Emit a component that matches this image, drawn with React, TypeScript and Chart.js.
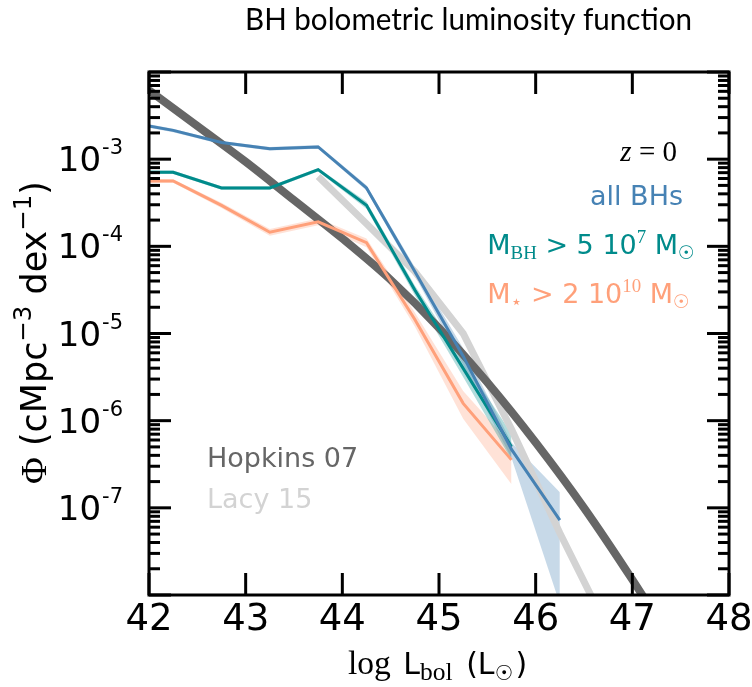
import React, { useEffect, useRef } from 'react';
import { Chart, registerables } from 'chart.js';

Chart.register(...registerables);

// ---------------- data ----------------
const binCenters = [41.75, 42.25, 42.75, 43.25, 43.75, 44.25, 44.75, 45.25, 45.75, 46.25];

const allBHs = [2.69e-3, 2.14e-3, 1.55e-3, 1.32e-3, 1.38e-3, 4.68e-4, 5.13e-5, 5.5e-6, 4.68e-7, 7.24e-8];
const allBHsLow = [2.57e-3, 2.04e-3, 1.48e-3, 1.26e-3, 1.32e-3, 4.37e-4, 4.57e-5, 4.37e-6, 3.72e-7, 7.9e-9];
const allBHsHigh = [2.82e-3, 2.24e-3, 1.62e-3, 1.38e-3, 1.45e-3, 5.01e-4, 5.75e-5, 6.76e-6, 5.62e-7, 1.51e-7];

const massiveBHs = [7.08e-4, 7.08e-4, 4.68e-4, 4.68e-4, 7.59e-4, 2.95e-4, 3.16e-5, 3.98e-6, 5.01e-7];
const massiveBHsLow = [6.76e-4, 6.76e-4, 4.47e-4, 4.47e-4, 7.24e-4, 2.69e-4, 2.75e-5, 3.16e-6, 3.55e-7];
const massiveBHsHigh = [7.41e-4, 7.41e-4, 4.9e-4, 4.9e-4, 7.94e-4, 3.24e-4, 3.55e-5, 5.01e-6, 7.08e-7];

const massiveGals = [5.62e-4, 5.62e-4, 2.95e-4, 1.45e-4, 1.91e-4, 1.1e-4, 1.45e-5, 1.58e-6, 3.55e-7];
const massiveGalsLow = [5.37e-4, 5.37e-4, 2.75e-4, 1.32e-4, 1.74e-4, 9.77e-5, 1.2e-5, 1.05e-6, 1.86e-7];
const massiveGalsHigh = [5.89e-4, 5.89e-4, 3.16e-4, 1.58e-4, 2.09e-4, 1.23e-4, 1.74e-5, 2.19e-6, 5.25e-7];

const hopkinsL = [42.0, 42.5, 43.0, 43.5, 44.0, 44.5, 45.0, 45.5, 46.0, 46.5, 47.0, 47.5];
const hopkinsPhi = [6.17e-3, 2.4e-3, 9.33e-4, 3.39e-4, 1.23e-4, 4.12e-5, 1.16e-5, 2.75e-6, 5.62e-7, 1.0e-7, 1.5e-8, 2.0e-9];

const lacyL = [43.75, 44.25, 44.75, 45.25, 45.75, 46.25, 46.75];
const lacyPhi = [6.31e-4, 1.82e-4, 5.13e-5, 1.0e-5, 7.94e-7, 5.13e-8, 3.98e-9];

const xTickValues = [42, 43, 44, 45, 46, 47, 48];
const yLabelExponents = [-3, -4, -5, -6, -7];
const xMin = 42;
const xMax = 48;
const yMin = 1e-8;
const yMax = 1e-2;

// ---------------- styles ----------------
const BLUE = '#4682b4';
const TEAL = '#008b8b';
const SALMON = '#ffa07a';
const DARKGRAY = '#666666';
const LIGHTGRAY = '#d3d3d3';
const SANS = '"DejaVu Sans"';
const SERIF = '"Liberation Serif"';

type Piece = { t: string; f?: string; s?: number; dy?: number; it?: boolean; gap?: number };

function fontOf(p: Piece, base: number) {
  const size = base * (p.s ?? 1);
  return `${p.it ? 'italic ' : ''}${size}px ${p.f ?? SANS}`;
}

function richWidth(ctx: CanvasRenderingContext2D, pieces: Piece[], base: number) {
  let w = 0;
  for (const p of pieces) {
    ctx.font = fontOf(p, base);
    w += ctx.measureText(p.t).width + (p.gap ?? 0);
  }
  return w;
}

function drawRich(
  ctx: CanvasRenderingContext2D,
  pieces: Piece[],
  base: number,
  x: number,
  y: number,
  align: 'left' | 'center' | 'right',
  color: string
) {
  const w = richWidth(ctx, pieces, base);
  let cx = align === 'right' ? x - w : align === 'center' ? x - w / 2 : x;
  ctx.fillStyle = color;
  ctx.textAlign = 'left';
  ctx.textBaseline = 'alphabetic';
  for (const p of pieces) {
    ctx.font = fontOf(p, base);
    cx += p.gap ?? 0;
    ctx.fillText(p.t, cx, y + (p.dy ?? 0) * base);
    cx += ctx.measureText(p.t).width;
  }
}

const decorPlugin = {
  id: 'decor',
  afterDraw(chart: any) {
    const ctx: CanvasRenderingContext2D = chart.ctx;
    const { left, right, top, bottom } = chart.chartArea;
    const xs = chart.scales.x;
    const ys = chart.scales.y;
    ctx.save();

    // frame
    ctx.strokeStyle = '#000';
    ctx.lineWidth = 3;
    ctx.lineCap = 'butt';
    ctx.strokeRect(left, top, right - left, bottom - top);

    const seg = (x1: number, y1: number, x2: number, y2: number) => {
      ctx.beginPath();
      ctx.moveTo(x1, y1);
      ctx.lineTo(x2, y2);
      ctx.stroke();
    };

    // x ticks (inward, top and bottom)
    for (const v of xTickValues) {
      const px = xs.getPixelForValue(v);
      seg(px, bottom, px, bottom - 22);
      seg(px, top, px, top + 22);
    }
    // y ticks (log, inward, left and right)
    const eMin = Math.floor(Math.log10(yMin));
    const eMax = Math.ceil(Math.log10(yMax));
    for (let e = eMin; e <= eMax; e++) {
      for (let k = 1; k <= 9; k++) {
        const v = k * Math.pow(10, e);
        if (v < yMin * 0.999 || v > yMax * 1.001) continue;
        const py = ys.getPixelForValue(v);
        const len = k === 1 ? 22 : 11;
        seg(left, py, left + len, py);
        seg(right, py, right - len, py);
      }
    }

    // x tick labels
    ctx.fillStyle = '#000';
    ctx.font = `37px ${SANS}`;
    ctx.textAlign = 'center';
    ctx.textBaseline = 'alphabetic';
    for (const v of xTickValues) {
      ctx.fillText(String(v), xs.getPixelForValue(v), 630);
    }

    // y tick labels 10^e
    for (const e of yLabelExponents) {
      const py = ys.getPixelForValue(Math.pow(10, e));
      const sup = `-${Math.abs(e)}`;
      ctx.font = `21px ${SANS}`;
      const ws = ctx.measureText(sup).width;
      ctx.textAlign = 'right';
      ctx.fillText(sup, 123, py - 5);
      ctx.font = `34px ${SANS}`;
      ctx.fillText('10', 123 - ws - 1, py + 12);
    }

    // title
    const title = 'BH bolometric luminosity function';
    ctx.font = `30px Lato`;
    const tw = ctx.measureText(title).width;
    ctx.save();
    ctx.translate(468.5, 30);
    ctx.scale(Math.min(1, 447 / tw), 1);
    ctx.textAlign = 'center';
    ctx.fillStyle = '#000';
    ctx.fillText(title, 0, 0);
    ctx.restore();

    // x axis title
    const xTitle: Piece[] = [
      { t: 'log', f: SERIF, s: 1.12 },
      { t: ' L', gap: 3 },
      { t: 'bol', f: SERIF, s: 0.85, dy: 0.2 },
      { t: ' (', gap: 4 },
      { t: 'L' },
      { t: '\u2609', s: 0.7, dy: 0.2 },
      { t: ')', gap: 2 },
    ];
    drawRich(ctx, xTitle, 30, 437.5, 674, 'center', '#000');

    // y axis title (rotated)
    const yTitle: Piece[] = [
      { t: '\u03A6', f: SERIF, s: 1.05 },
      { t: ' (cMpc' },
      { t: '\u22123', s: 0.7, dy: -0.42 },
      { t: ' dex' },
      { t: '\u22121', s: 0.7, dy: -0.42 },
      { t: ')' },
    ];
    const yw = richWidth(ctx, yTitle, 32);
    const ybase = 32 * (303 / yw);
    ctx.save();
    ctx.translate(46, (top + bottom) / 2 - 1);
    ctx.rotate(-Math.PI / 2);
    drawRich(ctx, yTitle, ybase, 0, 0, 'center', '#000');
    ctx.restore();

    // annotations
    drawRich(ctx, [{ t: 'z', f: SERIF, it: true }, { t: ' = 0', f: SERIF }], 29, 677, 161, 'right', '#000');
    drawRich(ctx, [{ t: 'all BHs' }], 27, 683, 205, 'right', BLUE);
    drawRich(
      ctx,
      [
        { t: 'M' },
        { t: 'BH', f: SERIF, s: 0.7, dy: 0.2 },
        { t: ' > 5 10' },
        { t: '7', f: SERIF, s: 0.7, dy: -0.42 },
        { t: ' M' },
        { t: '\u2609', s: 0.7, dy: 0.2 },
      ],
      27,
      695,
      254,
      'right',
      TEAL
    );
    drawRich(
      ctx,
      [
        { t: 'M' },
        { t: '\u22C6', s: 0.7, dy: 0.2 },
        { t: ' > 2 10' },
        { t: '10', f: SERIF, s: 0.7, dy: -0.42 },
        { t: ' M' },
        { t: '\u2609', s: 0.7, dy: 0.2 },
      ],
      27,
      690,
      303,
      'right',
      SALMON
    );
    drawRich(ctx, [{ t: 'Hopkins 07' }], 27, 207, 467, 'left', DARKGRAY);
    drawRich(ctx, [{ t: 'Lacy 15' }], 27, 207, 508, 'left', LIGHTGRAY);

    ctx.restore();
  },
};

function pts(xs: number[], ys: number[]) {
  return ys.map((y, i) => ({ x: xs[i], y }));
}

function rgba(hex: string, a: number) {
  const n = parseInt(hex.slice(1), 16);
  return `rgba(${(n >> 16) & 255},${(n >> 8) & 255},${n & 255},${a})`;
}

export default function App() {
  const ref = useRef<HTMLCanvasElement | null>(null);

  useEffect(() => {
    if (!ref.current) return;
    const lineDs = (label: string, data: any[], color: string, width: number, order: number, smooth = false) => ({
      label,
      data,
      borderColor: color,
      backgroundColor: color,
      borderWidth: width,
      pointRadius: 0,
      tension: smooth ? 0.4 : 0,
      cubicInterpolationMode: smooth ? 'monotone' : 'default',
      fill: false,
      order,
    });
    const bandDs = (label: string, data: any[], color: string, fill: any, order: number) => ({
      label,
      data,
      borderWidth: 0,
      borderColor: 'rgba(0,0,0,0)',
      backgroundColor: rgba(color, 0.3),
      pointRadius: 0,
      tension: 0,
      fill,
      order,
    });

    const chart = new Chart(ref.current, {
      type: 'line',
      data: {
        datasets: [
          lineDs('all BHs', pts(binCenters, allBHs), BLUE, 3, 0),
          lineDs('MBH > 5e7', pts(binCenters, massiveBHs), TEAL, 3, 1),
          lineDs('Mstar > 2e10', pts(binCenters, massiveGals), SALMON, 3, 2),
          lineDs('Hopkins 07', pts(hopkinsL, hopkinsPhi), DARKGRAY, 8, 4, true),
          lineDs('Lacy 15', pts(lacyL, lacyPhi), LIGHTGRAY, 7, 5),
          bandDs('all low', pts(binCenters, allBHsLow), BLUE, false, 6),
          bandDs('all high', pts(binCenters, allBHsHigh), BLUE, 5, 6),
          bandDs('mbh low', pts(binCenters, massiveBHsLow), TEAL, false, 7),
          bandDs('mbh high', pts(binCenters, massiveBHsHigh), TEAL, 7, 7),
          bandDs('gal low', pts(binCenters, massiveGalsLow), SALMON, false, 8),
          bandDs('gal high', pts(binCenters, massiveGalsHigh), SALMON, 9, 8),
        ] as any,
      },
      options: {
        animation: false,
        responsive: false,
        devicePixelRatio: 1,
        layout: { padding: { top: 72, right: 23, left: 0, bottom: 0 } },
        plugins: {
          legend: { display: false },
          tooltip: { enabled: false },
          title: { display: false },
        },
        scales: {
          x: {
            type: 'linear',
            min: xMin,
            max: xMax,
            ticks: { display: false, stepSize: 1 },
            grid: { display: false },
            border: { display: false },
            afterFit: (s: any) => {
              s.height = 92;
            },
          },
          y: {
            type: 'logarithmic',
            min: yMin,
            max: yMax,
            ticks: { display: false },
            grid: { display: false },
            border: { display: false },
            afterFit: (s: any) => {
              s.width = 149;
            },
          },
        },
      } as any,
      plugins: [decorPlugin],
    });
    return () => chart.destroy();
  }, []);

  return (
    <div style={{ position: 'absolute', left: 0, top: 0, width: 752, height: 687, background: '#fff' }}>
      <canvas ref={ref} width={752} height={687} style={{ display: 'block' }} />
    </div>
  );
}
